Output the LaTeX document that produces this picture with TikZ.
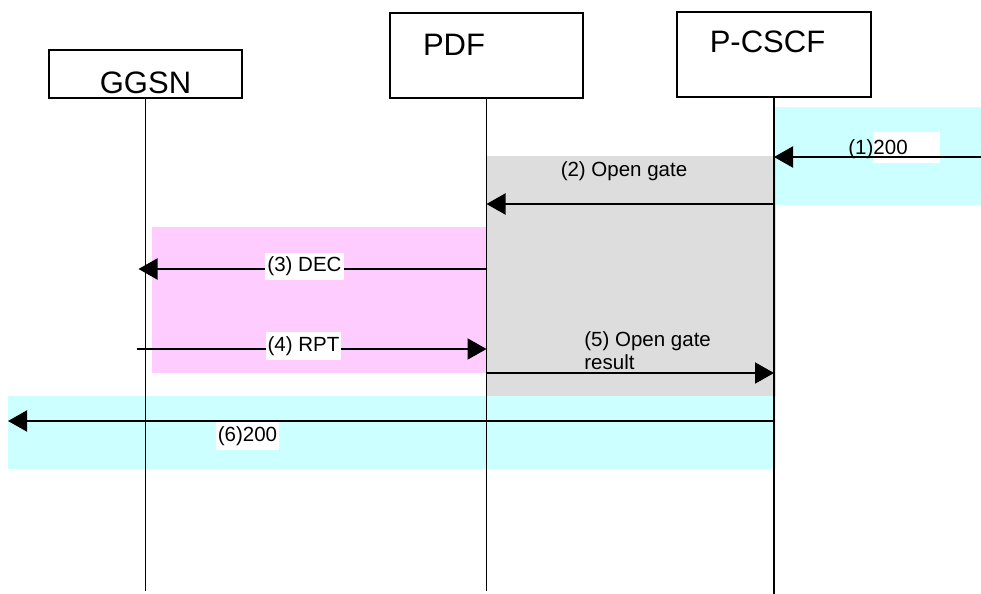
\documentclass[tikz,border=0pt]{standalone}
\usepackage{fontspec}
\setmainfont{Liberation Sans}
\usepackage{xcolor}
\usepackage{tikz}
\usetikzlibrary{positioning,arrows.meta}
\definecolor{PhaseCyan}{RGB}{204,255,255}
\definecolor{PhasePink}{RGB}{255,204,255}
\definecolor{PhaseGrey}{RGB}{221,221,221}

\begin{document}
\begin{tikzpicture}[
                x=0.5pt, y=-0.5pt,
                entity/.style={draw=black, line width=0.75pt, minimum width=96.5pt, inner sep=0pt},
                title/.style={font=\fontsize{15.5pt}{18pt}\selectfont, anchor=base, inner sep=0pt},
                lifeline/.style={draw=black, line width=0.75pt},
                msg/.style={-{Triangle[length=9.5pt,width=10.5pt]}, draw=black, line width=1pt},
                msglabel/.style={font=\fontsize{10.25pt}{11.5pt}\selectfont, inner sep=0pt},
                tagged/.style={msglabel, fill=white, inner xsep=1pt, inner ysep=2pt}
            ]
                \useasboundingbox (0,0) rectangle (981,594);
                % Shaded phases
                \fill[PhaseCyan] (775,107) rectangle (981,205);
                \fill[PhaseGrey] (487,156) rectangle (776,397);
                \fill[PhasePink] (152,227) rectangle (487,373);
                \fill[PhaseCyan] (8,396) rectangle (776,469);
                \fill[white] (873,132) rectangle (940,163);

                % Entities
                \node[entity, minimum height=24pt] (ggsn) at (145.5,74) {};
                \node[entity, minimum height=42.5pt] (pdf) at (486.5,55.5) {};
                \node[entity, minimum height=42.5pt, minimum width=97pt] (pcscf) at (774,54.5) {};
                \node[title] (ggsn-t) at (145.5,93) {GGSN};
                \node[title] (pdf-t) at (454,55) {PDF};
                \node[title] (pcscf-t) at (767.5,53) {P-CSCF};

                % Lifelines
                \path (ggsn.south) ++(0,492) coordinate (ggsn-end);
                \path (pdf.south) ++(0,492) coordinate (pdf-end);
                \path (pcscf.south) ++(0,496) coordinate (pcscf-end);
                \draw[lifeline] (ggsn.south) -- (ggsn-end);
                \draw[lifeline] (pdf.south) -- (pdf-end);
                \draw[lifeline] (pcscf.south) -- (pcscf-end);

                % Message levels
                \coordinate (in) at (981,157);
                \coordinate (y2) at (0,204);
                \coordinate (y3) at (0,269);
                \coordinate (y4) at (0,349);
                \coordinate (y5) at (0,373);
                \coordinate (out) at (8,421);

                % Messages
                \draw[msg] (in) -- (pcscf.south |- in);
                \draw[msg] (pcscf.south |- y2) -- (pdf.south |- y2);
                \draw[msg, shorten >=-3.5pt] (pdf.south |- y3) -- (ggsn.south |- y3);
                \draw[msg, shorten <=-4.5pt] (ggsn.south |- y4) -- (pdf.south |- y4);
                \draw[msg] (pdf.south |- y5) -- (pcscf.south |- y5);
                \draw[msg] (pcscf.south |- out) -- (out);

                % Labels
                \node[msglabel, anchor=base west] (l1) at (848,154) {(1)200};
                \node[msglabel] (l2) at (624,171) {(2) Open gate};
                \node[tagged] (l3) at (304.5,266.5) {(3) DEC};
                \node[tagged] (l4) at (303.5,346) {(4) RPT};
                \node[msglabel, align=left, anchor=west] (l5) at (584,351) {(5) Open gate\\result};
                \node[tagged] (l6) at (247.5,436) {(6)200};

            \end{tikzpicture}
\end{document}
